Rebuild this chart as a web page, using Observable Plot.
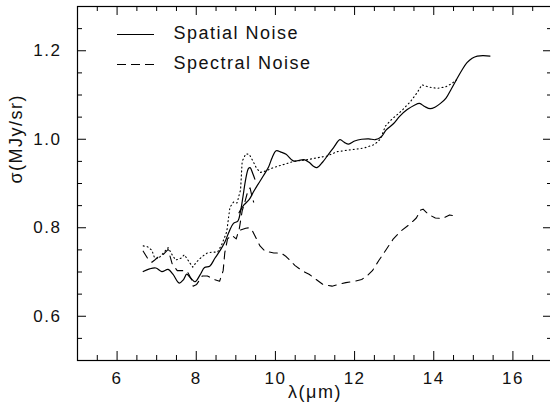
<!DOCTYPE html>
<html><head><meta charset="utf-8">
<script src="https://cdn.jsdelivr.net/npm/d3@7"></script>
<script src="https://cdn.jsdelivr.net/npm/@observablehq/plot@0.6"></script>
<style>
body{margin:0;background:#fff;overflow:hidden}
#chart svg{display:block}
</style>
</head><body><div id="chart"></div><script>
// ---- data ----
// Spatial noise, two spectral segments (solid)
const spatialLambda1 = [6.66,6.82,6.98,7.13,7.29,7.41,7.57,7.68,7.76,7.85,7.97,8.10,8.21,8.34,8.47,8.62,8.72,8.83,8.94,9.05,9.12,9.18,9.25,9.32,9.36,9.43,9.48];
const spatialSigma1  = [0.701,0.707,0.709,0.701,0.706,0.695,0.675,0.683,0.695,0.687,0.678,0.694,0.710,0.713,0.731,0.751,0.767,0.791,0.810,0.815,0.838,0.870,0.910,0.934,0.936,0.922,0.910];
const spatialLambda2 = [9.08,9.21,9.34,9.45,9.56,9.70,9.83,9.92,10.02,10.14,10.27,10.45,10.58,10.72,10.85,10.96,11.05,11.19,11.34,11.47,11.63,11.74,11.85,12.00,12.18,12.36,12.52,12.67,12.80,12.98,13.15,13.33,13.51,13.64,13.77,13.91,14.04,14.17,14.31,14.44,14.57,14.71,14.84,14.97,15.10,15.25,15.42];
const spatialSigma2  = [0.834,0.852,0.864,0.882,0.898,0.918,0.938,0.959,0.974,0.971,0.966,0.951,0.952,0.954,0.948,0.939,0.936,0.948,0.966,0.981,0.999,0.993,0.989,0.996,1.000,1.001,0.999,1.005,1.021,1.035,1.053,1.067,1.077,1.081,1.074,1.069,1.073,1.081,1.093,1.113,1.134,1.156,1.173,1.183,1.188,1.189,1.188];
// Spectral noise, two segments (dashed)
const spectralLambda1 = [6.66,6.77,6.88,6.95,7.05,7.17,7.29,7.39,7.52,7.66,7.78,7.88,7.92,8.01,8.15,8.28,8.46,8.59,8.68,8.72,8.79,8.90,9.01,9.09,9.16,9.24,9.30,9.36,9.41,9.45];
const spectralSigma1  = [0.747,0.731,0.722,0.727,0.735,0.740,0.751,0.719,0.703,0.703,0.700,0.683,0.668,0.672,0.691,0.691,0.683,0.679,0.703,0.743,0.775,0.783,0.775,0.799,0.838,0.862,0.882,0.890,0.870,0.858];
const spectralLambda2 = [9.12,9.25,9.34,9.43,9.61,9.74,9.96,10.14,10.27,10.49,10.67,10.85,11.03,11.20,11.43,11.60,11.78,12.00,12.18,12.31,12.45,12.62,12.80,12.98,13.15,13.38,13.56,13.67,13.73,13.87,14.04,14.22,14.40,14.57];
const spectralSigma2  = [0.795,0.799,0.800,0.791,0.759,0.747,0.743,0.743,0.735,0.715,0.703,0.695,0.683,0.672,0.668,0.672,0.676,0.679,0.683,0.691,0.703,0.727,0.751,0.775,0.791,0.807,0.822,0.840,0.842,0.830,0.822,0.821,0.829,0.826];
// Third (dotted, unlabeled) curve
const dottedLambda = [6.66,6.77,6.88,6.95,7.05,7.17,7.29,7.39,7.48,7.61,7.70,7.79,7.91,8.01,8.15,8.28,8.41,8.54,8.65,8.77,8.85,8.94,9.03,9.12,9.16,9.25,9.34,9.43,9.52,9.62,9.75,9.95,10.21,10.46,10.76,11.05,11.30,11.56,11.89,12.23,12.50,12.65,12.78,12.95,13.11,13.24,13.41,13.58,13.70,13.87,14.08,14.29,14.46,14.57];
const dottedSigma  = [0.759,0.757,0.749,0.731,0.731,0.743,0.755,0.739,0.727,0.731,0.739,0.727,0.711,0.723,0.735,0.743,0.745,0.745,0.763,0.791,0.846,0.858,0.856,0.886,0.950,0.967,0.966,0.951,0.935,0.925,0.928,0.936,0.943,0.950,0.953,0.958,0.962,0.972,0.976,0.980,0.988,1.000,1.030,1.046,1.058,1.069,1.085,1.105,1.123,1.118,1.115,1.118,1.126,1.134];

// ---- axes ----
const xDomain = [5, 17];
const yDomain = [0.5, 1.3];
const xMajor = [6, 8, 10, 12, 14, 16];
const yMajor = [0.6, 0.8, 1.0, 1.2];
const xMinor = d3.range(5.5, 17, 0.5).filter(v => !xMajor.includes(v));
const yMinor = d3.range(11, 26).map(v => v / 20).filter(v => !yMajor.some(m => Math.abs(m - v) < 1e-9));
const xLabel = "λ(μm)";
const yLabel = "σ(MJy/sr)";
const legendNames = ["Spatial Noise", "Spectral Noise"];

const toRows = (xs, ys, seg) => xs.map((x, i) => ({x, y: ys[i], seg}));
const spatial = [...toRows(spatialLambda1, spatialSigma1, 1), ...toRows(spatialLambda2, spatialSigma2, 2)];
const spectral = [...toRows(spectralLambda1, spectralSigma1, 1), ...toRows(spectralLambda2, spectralSigma2, 2)];
const dotted = toRows(dottedLambda, dottedSigma, 1);

const W = 550, H = 403;
const mL = 77, mR = -2, mT = 6, mB = 43;
const innerW = W - mL - mR, innerH = H - mT - mB;
const major = 9, minor = 5;
const font = "'Liberation Sans', Arial, Helvetica, sans-serif";
const ink = "#111";

const chart = Plot.plot({
  width: W, height: H,
  marginLeft: mL, marginRight: mR, marginTop: mT, marginBottom: mB,
  x: {domain: xDomain, axis: null},
  y: {domain: yDomain, axis: null},
  style: {fontFamily: font, fontSize: "18px", color: "#000", background: "#fff", letterSpacing: "1.5px"},
  marks: [
    // ticks (inward, all four sides)
    Plot.tickX(xMajor, {x: d => d, insetTop: innerH - major, stroke: "#000"}),
    Plot.tickX(xMajor, {x: d => d, insetBottom: innerH - major, stroke: "#000"}),
    Plot.tickX(xMinor, {x: d => d, insetTop: innerH - minor, stroke: "#000"}),
    Plot.tickX(xMinor, {x: d => d, insetBottom: innerH - minor, stroke: "#000"}),
    Plot.tickY(yMajor, {y: d => d, insetRight: innerW - major, stroke: "#000"}),
    Plot.tickY(yMajor, {y: d => d, insetLeft: innerW - major, stroke: "#000"}),
    Plot.tickY(yMinor, {y: d => d, insetRight: innerW - minor, stroke: "#000"}),
    Plot.tickY(yMinor, {y: d => d, insetLeft: innerW - minor, stroke: "#000"}),
    Plot.frame({stroke: "#000", strokeWidth: 1.2}),
    // tick labels
    Plot.text(xMajor, {x: d => d, frameAnchor: "bottom", dy: 23, fontSize: 17, text: d => String(d), fill: ink}),
    Plot.text(yMajor, {y: d => d, frameAnchor: "left", dx: -16, fontSize: 17, textAnchor: "end", text: d => d3.format(".1f")(d), fill: ink}),
    // axis titles
    Plot.text([xLabel], {frameAnchor: "bottom", dy: 37, text: d => d, fill: ink}),
    Plot.text([yLabel], {frameAnchor: "left", dx: -61, rotate: -90, text: d => d, fill: ink}),
    // data
    Plot.line(dotted, {x: "x", y: "y", z: "seg", stroke: "#000", strokeWidth: 1.1, strokeDasharray: "1,3"}),
    Plot.line(spectral, {x: "x", y: "y", z: "seg", stroke: "#000", strokeWidth: 1.1, strokeDasharray: "8,6"}),
    Plot.line(spatial, {x: "x", y: "y", z: "seg", stroke: "#000", strokeWidth: 1.2, curve: "catmull-rom"}),
    // legend labels
    Plot.text(legendNames, {frameAnchor: "top-left", dx: 96, text: d => d, textAnchor: "start", fill: ink, filter: (d, i) => i === 0, dy: 20}),
    Plot.text(legendNames, {frameAnchor: "top-left", dx: 96, text: d => d, textAnchor: "start", fill: ink, filter: (d, i) => i === 1, dy: 50})
  ]
});
document.getElementById("chart").appendChild(chart);

// legend line samples
const svg = d3.select(chart);
const g = svg.append("g").attr("stroke", "#000").attr("fill", "none");
g.append("line").attr("x1", 117).attr("x2", 154).attr("y1", 34.5).attr("y2", 34.5).attr("stroke-width", 1.2);
g.append("line").attr("x1", 117).attr("x2", 156).attr("y1", 64.5).attr("y2", 64.5).attr("stroke-width", 1.1).attr("stroke-dasharray", "9,5");
</script></body></html>
